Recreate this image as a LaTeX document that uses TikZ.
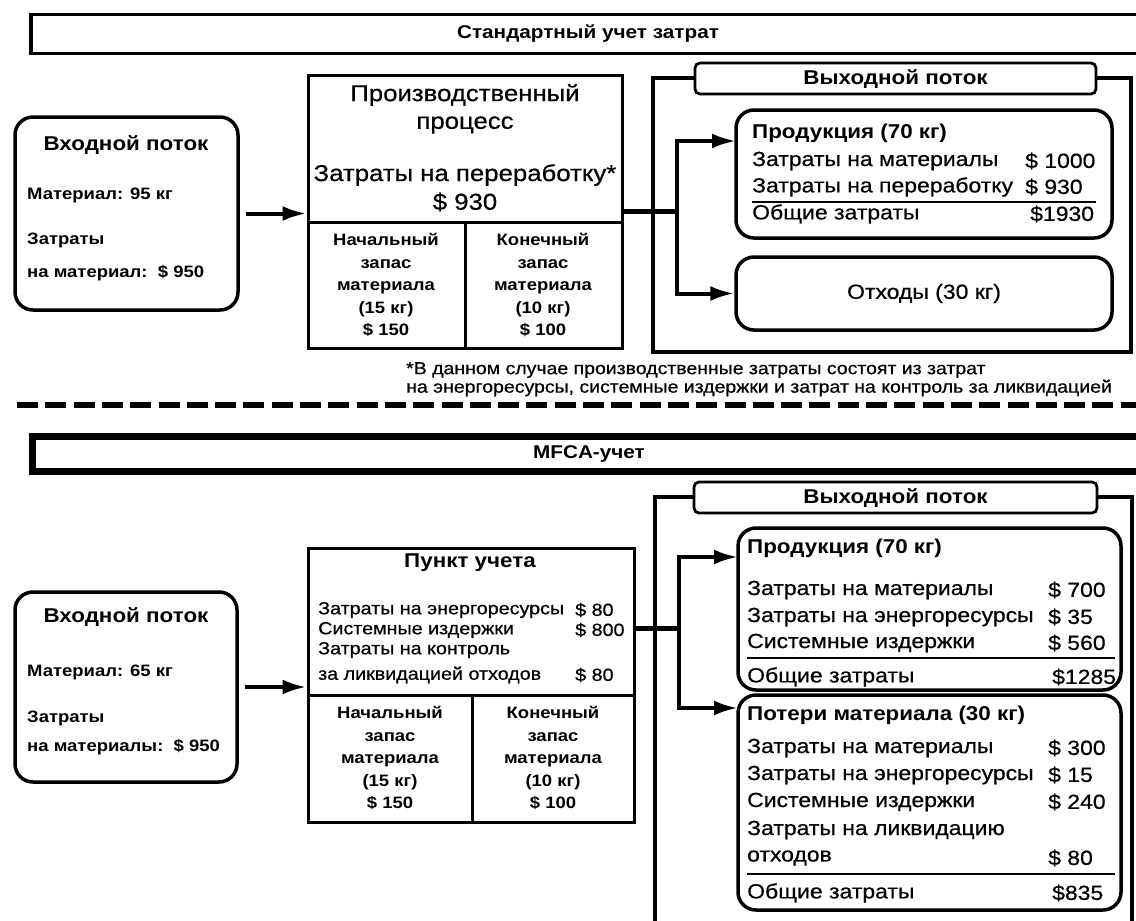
\documentclass[tikz,border=0pt]{standalone}
\usepackage{fontspec}
\setmainfont{Liberation Sans}[FakeStretch=1.12,UprightFeatures={FakeBold=0.6}]
\usetikzlibrary{arrows.meta}

\begin{document}
\begin{tikzpicture}[x=1pt,y=1pt,
	every node/.style={inner sep=0pt},
	frame/.style={draw,line width=3.5pt},
	pbox/.style={draw,line width=3pt},
	rbox/.style={draw,line width=3.5pt,rounded corners=18pt},
	outbox/.style={draw,line width=3.5pt},
	tag/.style={draw,fill=white,line width=2.8pt,rounded corners=5pt},
	flow/.style={line width=4pt,-{Latex[length=24pt,width=15pt]}},
	branch/.style={line width=5pt},
	rule/.style={line width=2.5pt},
	headtxt/.style={font=\fontsize{18.5}{22}\bfseries\selectfont},
	titletxt/.style={font=\fontsize{20}{24}\bfseries\selectfont},
	bigtxt/.style={font=\fontsize{23}{27}\selectfont},
	smalltxt/.style={font=\fontsize{16.5}{19}\bfseries\selectfont},
	celltxt/.style={font=\fontsize{16.5}{22.5}\bfseries\selectfont,align=center},
	rowtxt/.style={font=\fontsize{20.5}{24}\selectfont,anchor=west},
	midtxt/.style={font=\fontsize{17.6}{22}\selectfont,anchor=west},
	notetxt/.style={font=\fontsize{17.4}{19}\selectfont,anchor=west}]
	\useasboundingbox (0,0) rectangle (1136,-921);
	\fill [white] (0,0) rectangle (1136,-921);

	% standard costing
	\node (hd1) [frame,minimum width=1130pt,minimum height=39pt] at (596,-34) {};
	\node (hd1t) [headtxt] at (588,-34) {Стандартный учет затрат};

	\node (in1) [rbox,minimum width=223pt,minimum height=193pt] at (126.5,-213.5) {};
	\node (in1t) [titletxt] at (126,-145) {Входной поток};
	\node (in1a) [smalltxt,anchor=west] at (27,-195) {Материал: 95 кг};
	\node (in1b) [smalltxt,anchor=west] at (27,-240) {Затраты};
	\node (in1c) [smalltxt,anchor=west] at (27,-273) {на материал:\ \ \$ 950};

	\node (pr1) [pbox,minimum width=314pt,minimum height=273pt] at (465,-211.5) {};
	\draw [pbox] (308,-222) -- (622,-222) (465,-222) -- (465,-348);
	\node (pr1a) [bigtxt] at (465,-95) {Производственный};
	\node (pr1b) [bigtxt] at (465,-125) {процесс};
	\node (pr1c) [bigtxt] at (465,-175) {Затраты на переработку*};
	\node (pr1d) [bigtxt] at (465,-202) {\$ 930};
	\node (st1a) [celltxt] at (386,-285) {Начальный\\запас\\материала\\(15 кг)\\\$ 150};
	\node (st1b) [celltxt] at (543,-285) {Конечный\\запас\\материала\\(10 кг)\\\$ 100};

	\node (out1) [outbox,minimum width=478pt,minimum height=274pt] at (892,-215) {};
	\node (out1t) [tag,minimum width=401pt,minimum height=31pt] at (895.5,-78.5) {};
	\node (out1l) [titletxt] at (895.5,-79) {Выходной поток};

	\node (pd1) [rbox,minimum width=376pt,minimum height=128pt] at (924,-174) {};
	\node (pd1t) [titletxt,anchor=west] at (752,-133) {Продукция (70 кг)};
	\node (pd1a) [rowtxt] at (752,-161) {Затраты на материалы};
	\node (pd1av) [rowtxt] at (1025,-161) {\$ 1000};
	\node (pd1b) [rowtxt] at (752,-187) {Затраты на переработку};
	\node (pd1bv) [rowtxt] at (1025,-187) {\$ 930};
	\draw [rule] (752,-202) -- (1096,-202);
	\node (pd1c) [rowtxt] at (752,-214) {Общие затраты};
	\node (pd1cv) [rowtxt] at (1030,-214) {\$1930};

	\node (ws1) [rbox,minimum width=376pt,minimum height=73pt] at (924,-293.5) {};
	\node (ws1t) [font=\fontsize{20.5}{24}\selectfont] at (924,-293.5) {Отходы (30 кг)};

	\coordinate (j1) at (677,-211.5);
	\coordinate (pd1in) at (736,-141);
	\draw [flow,shorten <=6pt] (in1.east) -- (in1.east -| pr1.west);
	\draw [branch] (pr1.east) -- (j1);
	\draw [flow] (j1) |- (pd1in);
	\draw [flow] (j1) |- (ws1.west);

	\node (fn1) [notetxt] at (406,-370) {*В данном случае производственные затраты состоят из затрат};
	\node (fn2) [notetxt] at (406,-388) {на энергоресурсы, системные издержки и затрат на контроль за ликвидацией};

	\draw [line width=6pt,dash pattern=on 21pt off 7.3pt] (17,-405) -- (1136,-405);

	% MFCA
	\node (hd2) [frame,line width=7pt,minimum width=1130pt,minimum height=35pt] at (597,-453.5) {};
	\node (hd2t) [headtxt] at (589,-453.5) {MFCA-учет};

	\node (in2) [rbox,minimum width=222pt,minimum height=190pt] at (126,-687) {};
	\node (in2t) [titletxt] at (126,-617) {Входной поток};
	\node (in2a) [smalltxt,anchor=west] at (27,-672) {Материал: 65 кг};
	\node (in2b) [smalltxt,anchor=west] at (27,-718) {Затраты};
	\node (in2c) [smalltxt,anchor=west] at (27,-747) {на материалы:\ \ \$ 950};

	\node (pr2) [pbox,minimum width=326pt,minimum height=274pt] at (471,-685) {};
	\draw [pbox] (308,-695) -- (634,-695) (472,-695) -- (472,-822);
	\node (pr2t) [titletxt] at (470,-563) {Пункт учета};
	\node (pr2a) [midtxt] at (318,-610) {Затраты на энергоресурсы};
	\node (pr2av) [midtxt] at (575,-610) {\$ 80};
	\node (pr2b) [midtxt] at (318,-630) {Системные издержки};
	\node (pr2bv) [midtxt] at (575,-630) {\$ 800};
	\node (pr2c) [midtxt] at (318,-650) {Затраты на контроль};
	\node (pr2d) [midtxt] at (318,-675) {за ликвидацией отходов};
	\node (pr2dv) [midtxt] at (575,-675) {\$ 80};
	\node (st2a) [celltxt] at (390,-758) {Начальный\\запас\\материала\\(15 кг)\\\$ 150};
	\node (st2b) [celltxt] at (553,-758) {Конечный\\запас\\материала\\(10 кг)\\\$ 100};

	\node (out2) [outbox,minimum width=477pt,minimum height=463pt] at (893.5,-728.5) {};
	\node (out2t) [tag,minimum width=403pt,minimum height=31pt] at (895.5,-497.5) {};
	\node (out2l) [titletxt] at (895.5,-498) {Выходной поток};

	\node (pd2) [rbox,minimum width=383pt,minimum height=162pt] at (929.5,-609) {};
	\node (pd2t) [titletxt,anchor=west] at (747,-548) {Продукция (70 кг)};
	\node (pd2a) [rowtxt] at (747,-590) {Затраты на материалы};
	\node (pd2av) [rowtxt] at (1048,-590) {\$ 700};
	\node (pd2b) [rowtxt] at (747,-617) {Затраты на энергоресурсы};
	\node (pd2bv) [rowtxt] at (1048,-617) {\$ 35};
	\node (pd2c) [rowtxt] at (747,-643) {Системные издержки};
	\node (pd2cv) [rowtxt] at (1048,-643) {\$ 560};
	\draw [rule] (747,-658) -- (1115,-658);
	\node (pd2d) [rowtxt] at (747,-677) {Общие затраты};
	\node (pd2dv) [rowtxt] at (1052,-677) {\$1285};

	\node (ls2) [rbox,minimum width=383pt,minimum height=215pt] at (929.5,-802.5) {};
	\node (ls2t) [titletxt,anchor=west] at (747,-715) {Потери материала (30 кг)};
	\node (ls2a) [rowtxt] at (747,-748) {Затраты на материалы};
	\node (ls2av) [rowtxt] at (1048,-748) {\$ 300};
	\node (ls2b) [rowtxt] at (747,-775) {Затраты на энергоресурсы};
	\node (ls2bv) [rowtxt] at (1048,-775) {\$ 15};
	\node (ls2c) [rowtxt] at (747,-802) {Системные издержки};
	\node (ls2cv) [rowtxt] at (1048,-802) {\$ 240};
	\node (ls2d) [rowtxt] at (747,-830) {Затраты на ликвидацию};
	\node (ls2e) [rowtxt] at (747,-858) {отходов};
	\node (ls2ev) [rowtxt] at (1048,-858) {\$ 80};
	\draw [rule] (747,-874) -- (1115,-874);
	\node (ls2f) [rowtxt] at (747,-893) {Общие затраты};
	\node (ls2fv) [rowtxt] at (1052,-893) {\$835};

	\coordinate (j2) at (679,-628);
	\coordinate (pd2in) at (738,-557);
	\coordinate (ls2in) at (738,-708);
	\draw [flow,shorten <=6pt] (in2.east) -- (in2.east -| pr2.west);
	\draw [branch] (j2 -| pr2.east) -- (j2);
	\draw [flow] (j2) |- (pd2in);
	\draw [flow] (j2) |- (ls2in);
\end{tikzpicture}
\end{document}
